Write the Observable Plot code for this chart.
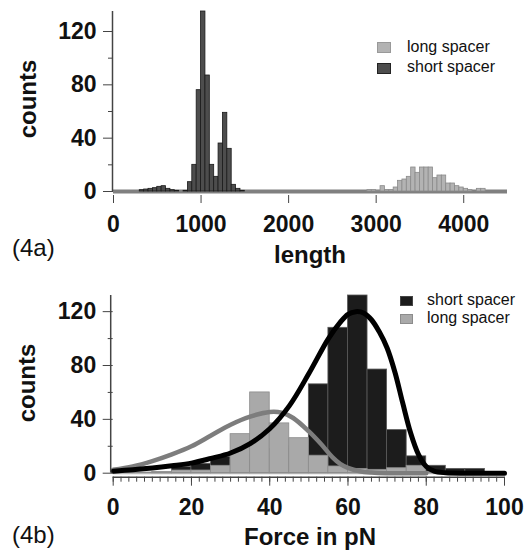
<!DOCTYPE html>
<html>
<head>
<meta charset="utf-8">
<script src="https://cdn.jsdelivr.net/npm/d3@7"></script>
<script src="https://cdn.jsdelivr.net/npm/@observablehq/plot@0.6"></script>
<style>
  html, body { margin: 0; padding: 0; background: #fff; }
  #wrap { position: relative; width: 528px; height: 550px; font-family: 'Liberation Sans', Arial, sans-serif; color: #111; }
  #wrap svg { position: absolute; left: 0; }
  .lbl { position: absolute; white-space: nowrap; line-height: 1; }
  .axl { font-size: 24px; font-weight: bold; transform: translateX(-50%); }
  .rot { font-size: 24px; font-weight: bold; transform: translate(-50%, -50%) rotate(-90deg); }
  .tag { font-size: 24px; font-weight: normal; }
  .leg { font-size: 16px; }
  .sq { position: absolute; box-sizing: border-box; }
</style>
</head>
<body>
<div id="wrap"></div>
<script>
// ---- Panel (4a): length histograms, bin width 50 ----
const shortLenBins   = [300, 350, 400, 450, 500, 550, 600, 650, 700, 750, 800, 850, 900, 950, 1000, 1050, 1100, 1150, 1200, 1250, 1300, 1350, 1400, 1450];
const shortLenCounts = [1, 1.5, 2, 2.5, 3.5, 4, 2, 1, 0.5, 0, 0.5, 7, 20, 76, 135, 87, 20, 11, 36, 59, 32, 5, 2, 0.5];
const longLenBins    = [2900, 2950, 3000, 3050, 3100, 3150, 3200, 3250, 3300, 3350, 3400, 3450, 3500, 3550, 3600, 3650, 3700, 3750, 3800, 3850, 3900, 3950, 4000, 4050, 4100, 4150, 4200];
const longLenCounts  = [1, 1, 0.5, 4, 1, 1, 3, 8, 9, 11, 18, 14, 18, 18, 18, 10, 12, 12, 6, 6, 4, 3, 2, 1, 0, 2, 2];
const lenBinWidth = 50;
const lenTicks = [0, 1000, 2000, 3000, 4000];

// ---- Panel (4b): force histograms, bin width 5 ----
const forceBins        = [0, 5, 10, 15, 20, 25, 30, 35, 40, 45, 50, 55, 60, 65, 70, 75, 80, 85, 90, 95];
const shortForceCounts = [0, 0, 0.5, 4.5, 7, 12, 10, 14, 18, 20, 66, 108, 132, 77, 32, 12.5, 5.5, 3.2, 3.2, 0];
const longForceCounts  = [0.5, 0.5, 1, 2, 2, 5.5, 29, 60, 37, 26, 13, 5, 3.2, 2.5, 3.7, 5.5, 1, 0.5, 0, 0];
const forceBinWidth = 5;
// fitted curves
const shortFitX = [0, 5, 10, 15, 20, 25, 30, 35, 40, 45, 50, 55, 58, 60, 62, 64, 66, 68, 70, 72, 74, 76, 78, 80, 82, 85, 90, 95, 100];
const shortFitY = [1.5, 2.5, 3.8, 5.5, 7.5, 11, 15, 22, 33, 50, 74, 100, 112, 118, 120, 119, 114, 105, 93, 75, 52, 30, 14, 5, 1.5, 0.3, 0, 0, 0];
const longFitX  = [0, 5, 10, 15, 20, 25, 30, 35, 40, 43, 46, 50, 53, 56, 58, 60, 63, 66, 70, 80];
const longFitY  = [2.5, 5, 9, 14, 20, 28, 36, 42, 45.5, 45, 41, 31, 22, 12, 7, 4, 1.5, 0.5, 0, 0];
const forceTicks = [0, 20, 40, 60, 80, 100];

const countTicks = [0, 40, 80, 120];
const countMinor = [20, 60, 100];

const bins = (starts, counts, w) => starts.map((s, i) => ({x1: s, x2: s + w, c: counts[i]}));
const shortLen = bins(shortLenBins, shortLenCounts, lenBinWidth);
const longLen = bins(longLenBins, longLenCounts, lenBinWidth);
const shortForce = bins(forceBins, shortForceCounts, forceBinWidth);
const longForce = bins(forceBins, longForceCounts, forceBinWidth);
const shortFit = shortFitX.map((x, i) => ({x, y: shortFitY[i]}));
const longFit = longFitX.map((x, i) => ({x, y: longFitY[i]}));

const svgStyle = {fontFamily: "'Liberation Sans', Arial, sans-serif", fontSize: "23px", fontWeight: "bold", background: "transparent", overflow: "visible", color: "#111"};
const plain = d => String(d);

const topPlot = Plot.plot({
  width: 528, height: 275,
  marginLeft: 113, marginRight: 21, marginTop: 11, marginBottom: 84,
  style: svgStyle,
  x: {domain: [0, 4500]},
  y: {domain: [0, 135]},
  marks: [
    Plot.ruleY([0], {stroke: "#808080", strokeWidth: 4}),
    Plot.rect(shortLen, {x1: "x1", x2: "x2", y1: 0, y2: "c", fill: "#4d4d4d", stroke: "#1a1a1a", strokeWidth: 0.8}),
    Plot.rect(longLen, {x1: "x1", x2: "x2", y1: 0, y2: "c", fill: "#b3b3b3", stroke: "#8a8a8a", strokeWidth: 0.8}),
    Plot.ruleX([0], {dx: -1, stroke: "#444", strokeWidth: 1.5}),
    Plot.axisY({ticks: countTicks, tickSize: 10, tickPadding: 7, tickFormat: plain, label: null, stroke: "#444"}),
    Plot.axisY({ticks: countMinor, tickSize: 5, tickFormat: () => "", label: null, stroke: "#444"}),
    Plot.axisX({ticks: lenTicks, tickSize: 8, dy: 4, tickPadding: 12, tickFormat: plain, label: null, stroke: "#444"})
  ]
});
topPlot.style.top = "0px";

const botPlot = Plot.plot({
  width: 528, height: 275,
  marginLeft: 112.7, marginRight: 24, marginTop: 20, marginBottom: 77.3,
  style: svgStyle,
  x: {domain: [0, 100]},
  y: {domain: [0, 132]},
  marks: [
    Plot.ruleY([0], {stroke: "#bdbdbd", strokeWidth: 2}),
    Plot.rect(shortForce, {x1: "x1", x2: "x2", y1: 0, y2: "c", fill: "#1c1c1c", stroke: "#5a5a5a", strokeWidth: 0.8}),
    Plot.rect(longForce, {x1: "x1", x2: "x2", y1: 0, y2: "c", fill: "#a9a9a9", stroke: "#8c8c8c", strokeWidth: 0.8}),
    Plot.line(longFit, {x: "x", y: "y", stroke: "#7d7d7d", strokeWidth: 4.5, curve: "catmull-rom"}),
    Plot.line(shortFit, {x: "x", y: "y", stroke: "#000", strokeWidth: 5, curve: "catmull-rom"}),
    Plot.ruleY([0], {dy: 4, stroke: "#444", strokeWidth: 1.5}),
    Plot.ruleX([0], {dx: -2.5, stroke: "#444", strokeWidth: 1.5}),
    Plot.axisY({ticks: countTicks, tickSize: 10, tickPadding: 7, tickFormat: plain, label: null, stroke: "#444"}),
    Plot.axisY({ticks: countMinor, tickSize: 5, tickFormat: () => "", label: null, stroke: "#444"}),
    Plot.axisX({ticks: d3.range(0, 101, 2), tickSize: 5, dy: 4, tickFormat: () => "", label: null, stroke: "#444"}),
    Plot.axisX({ticks: forceTicks, tickSize: 9, dy: 4, tickPadding: 12, tickFormat: plain, label: null, stroke: "#444"})
  ]
});
botPlot.style.top = "275px";

const wrap = document.getElementById("wrap");
wrap.appendChild(topPlot);
wrap.appendChild(botPlot);

function addText(cls, text, left, top) {
  const d = document.createElement("div");
  d.className = "lbl " + cls;
  d.textContent = text;
  d.style.left = left + "px";
  d.style.top = top + "px";
  wrap.appendChild(d);
}
function addSq(left, top, w, h, fill, stroke) {
  const d = document.createElement("div");
  d.className = "sq";
  Object.assign(d.style, {left: left + "px", top: top + "px", width: w + "px", height: h + "px", background: fill, border: "1px solid " + stroke});
  wrap.appendChild(d);
}

addText("axl", "length", 310, 243);
addText("axl", "Force in pN", 310, 525);
addText("rot", "counts", 28.4, 98.5);
addText("rot", "counts", 26.7, 383);
addText("tag", "(4a)", 12, 236);
addText("tag", "(4b)", 12, 523);

// legend (4a)
addSq(377, 42, 14, 11, "#b3b3b3", "#999");
addText("leg", "long spacer", 407, 39);
addSq(377, 63, 14, 11, "#4d4d4d", "#222");
addText("leg", "short spacer", 407, 59);
// legend (4b)
addSq(400, 296, 13, 10, "#1c1c1c", "#444");
addText("leg", "short spacer", 427, 292);
addSq(400, 314, 13, 10, "#a9a9a9", "#8c8c8c");
addText("leg", "long spacer", 427, 310);
</script>
</body>
</html>
